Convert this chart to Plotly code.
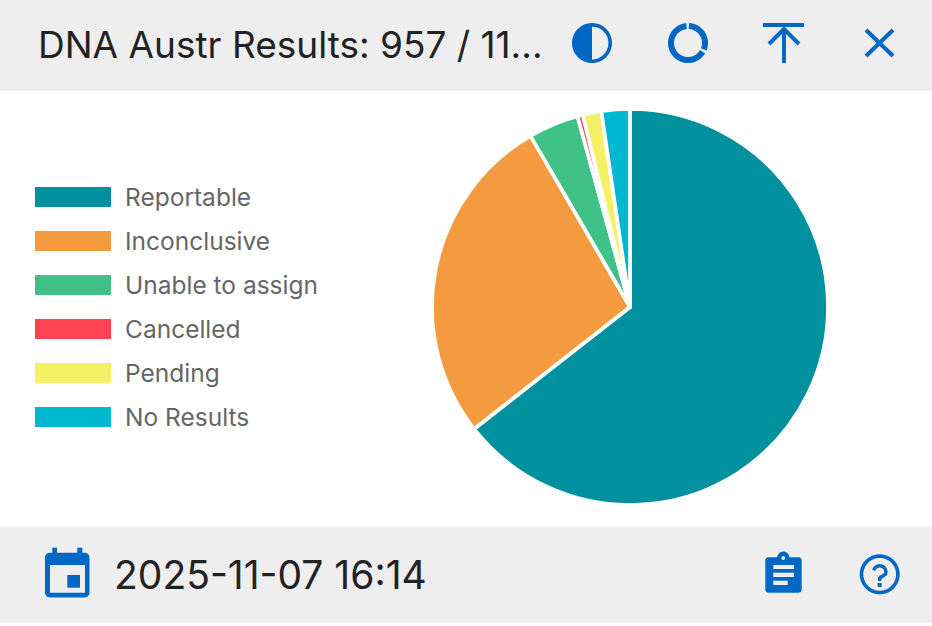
import numpy as np
import plotly.graph_objects as go

W, H = 932, 626

# Result counts per status
statuses = ["Reportable", "Inconclusive", "Unable to assign", "Cancelled", "Pending", "No Results"]
counts = [723, 305, 46, 5, 17, 26]
colors = ["#00909E", "#F59B3F", "#3FC187", "#FF4252", "#F5F064", "#00B8D0"]

title_text = "DNA Austr Results: 957 / 11..."
date_text = "2025-11-07 16:14"

BLUE = "#0068C4"
BAR = "#EEEEEE"
INK = "#222222"
LEGEND_INK = "#666666"
FONT = "Inter"


def px(x):
    return x / W


def py(y):
    return 1 - y / H


def poly(points, close=False):
    body = " L ".join(f"{px(x):.5f},{py(y):.5f}" for x, y in points)
    return "M " + body + (" Z" if close else "")


def arc_points(cx, cy, r, a0, a1, n=48):
    # Angles run clockwise from twelve o'clock, in degrees
    t = np.radians(np.linspace(a0, a1, n))
    return list(zip(cx + r * np.sin(t), cy - r * np.cos(t)))


def rect(x0, y0, x1, y1, color):
    return dict(type="rect", xref="paper", yref="paper", x0=px(x0), x1=px(x1),
                y0=py(y1), y1=py(y0), fillcolor=color, line_width=0, layer="below")


def fill(points, color):
    return dict(type="path", xref="paper", yref="paper", path=poly(points, True),
                fillcolor=color, line_width=0, layer="below")


def stroke(points, color, width):
    return dict(type="path", xref="paper", yref="paper", path=poly(points),
                line=dict(color=color, width=width), layer="below")


def rounded(x0, y0, x1, y1, r):
    return (arc_points(x0 + r, y0 + r, r, 270, 360, 8) + arc_points(x1 - r, y0 + r, r, 0, 90, 8)
            + arc_points(x1 - r, y1 - r, r, 90, 180, 8) + arc_points(x0 + r, y1 - r, r, 180, 270, 8))


shapes = [rect(0, 0, W, 91, BAR), rect(0, 527, W, 623, BAR)]

# Header icons: contrast, donut, export, close
shapes += [
    stroke(arc_points(592, 43, 18.2, 0, 360, 96), BLUE, 3.6),
    fill(arc_points(592, 43, 19, 180, 360, 48), BLUE),
    stroke(arc_points(688, 43, 17, 3, 112), BLUE, 6),
    stroke(arc_points(688, 43, 17, 121, 355), BLUE, 6),
    rect(763, 23, 804, 27, BLUE),
    stroke([(784, 30), (784, 63)], BLUE, 4),
    stroke([(769, 44), (784, 29), (799, 44)], BLUE, 4),
    stroke([(866, 30), (893, 56)], BLUE, 4),
    stroke([(893, 30), (866, 56)], BLUE, 4),
]

# Footer icons: calendar, clipboard, help
shapes += [
    fill(rounded(45, 552.7, 89.5, 597.5, 5), BLUE),
    rect(52.3, 547.7, 57, 556, BLUE),
    rect(77.3, 547.7, 82.3, 556, BLUE),
    rect(50, 565, 85, 592.7, BAR),
    rect(67.3, 575, 80, 587.7, BLUE),
    fill(rounded(765.3, 557.3, 801.7, 592.7, 3), BLUE),
    fill(arc_points(783.3, 557.5, 6, 0, 360, 24), BLUE),
    fill(arc_points(783.3, 558, 2, 0, 360, 16), BAR),
    rect(773.3, 565, 794, 569, BAR),
    rect(773.3, 572.7, 794, 577, BAR),
    rect(773.3, 580.7, 787.7, 585, BAR),
    stroke(arc_points(879.7, 574.3, 18.2, 0, 360, 96), BLUE, 3.6),
    stroke(arc_points(879.7, 572, 6.2, 285, 470, 24) + [(879.7, 578), (879.7, 581)], BLUE, 3.4),
    rect(877.7, 583, 881.7, 587, BLUE),
]

annotations = [
    dict(text=title_text, x=px(35.5), y=py(45), xref="paper", yref="paper", xanchor="left",
         yanchor="middle", showarrow=False, font=dict(family=FONT, size=37, color=INK)),
    dict(text=date_text, x=px(112), y=py(574), xref="paper", yref="paper", xanchor="left",
         yanchor="middle", showarrow=False, font=dict(family=FONT, size=39, color=INK)),
]

# Legend rows: wide swatch with its label
for i, (name, color) in enumerate(zip(statuses, colors)):
    yc = 197 + 44 * i
    shapes.append(rect(35, yc - 10, 111, yc + 10, color))
    annotations.append(dict(text=name, x=px(122.5), y=py(yc), xref="paper", yref="paper",
                            xanchor="left", yanchor="middle", showarrow=False,
                            font=dict(family=FONT, size=24.5, color=LEGEND_INK)))

pie = go.Pie(labels=statuses, values=counts, sort=False, direction="clockwise", rotation=0,
             marker=dict(colors=colors, line=dict(color="#FFFFFF", width=3.7)),
             textinfo="none", hoverinfo="label+value+percent", showlegend=False,
             domain=dict(x=[px(432), px(828)], y=[py(505), py(109)]))

fig = go.Figure(pie)
fig.update_layout(width=W, height=H, margin=dict(l=0, r=0, t=0, b=0), autosize=False,
                  paper_bgcolor="#FFFFFF", shapes=shapes, annotations=annotations, showlegend=False)
fig.write_html("out.html", config=dict(displayModeBar=False))
